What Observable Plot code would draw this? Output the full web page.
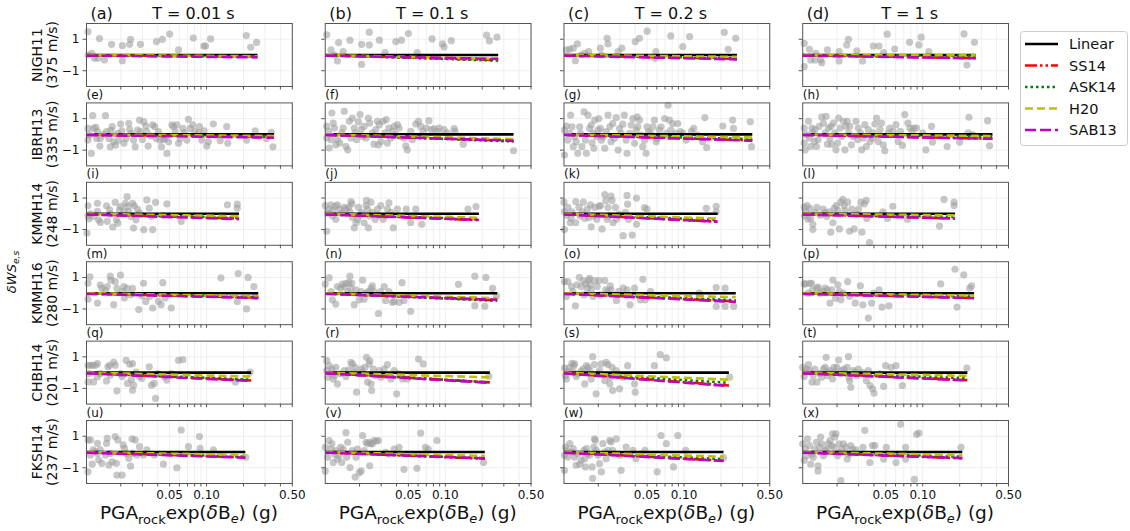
<!DOCTYPE html>
<html><head><meta charset="utf-8">
<script src="https://cdn.jsdelivr.net/npm/d3@7"></script>
<script src="https://cdn.jsdelivr.net/npm/@observablehq/plot@0.6"></script>
<style>body{margin:0;background:#fff;} svg{display:block}</style>
</head><body><div id="chart"></div>
<script>
// ---------- categories & labels ----------
const periods = ["0.01", "0.1", "0.2", "1"];
const periodTitles = ["T = 0.01 s", "T = 0.1 s", "T = 0.2 s", "T = 1 s"];
const stations = ["NIGH11", "IBRH13", "KMMH14", "KMMH16", "CHBH14", "FKSH14"];
const vs30 = [375, 335, 248, 280, 201, 237];
const letters = ["a","b","c","d","e","f","g","h","i","j","k","l","m","n","o","p","q","r","s","t","u","v","w","x"];
const xTicksLabeled = [0.05, 0.1, 0.5];
const xTicksAll = [0.02,0.03,0.04,0.05,0.06,0.07,0.08,0.09,0.1,0.2,0.3,0.4,0.5];
const yTicks = [-1, 1];
const xDomain = [0.0105, 0.5];
const yDomain = [-2, 2];
const models = ["Linear", "SS14", "ASK14", "H20", "SAB13"];

// ---------- residual points [x (g), y] per station & period ----------
const NIGH11_T001 = [[0.0108,1.48],[0.0134,1.04],[0.0168,0.68],[0.0206,0.59],[0.024,0.99],[0.0236,0.68],[0.0289,0.68],[0.039,0.85],[0.0436,0.99],[0.05,1.33],[0.059,0.32],[0.078,1.08],[0.095,0.57],[0.098,0.57],[0.108,1.02],[0.211,1.23],[0.229,0.49],[0.256,0.8],[0.0108,0],[0.0122,-0.21],[0.013,-0.21],[0.0147,-0.32],[0.0206,-0.36],[0.0116,0.1]];
const NIGH11_T01 = [[0.0108,1.28],[0.0117,0.32],[0.0125,0],[0.0132,-0.38],[0.0135,0.79],[0.0147,0.21],[0.0167,0.94],[0.0208,-0.6],[0.0208,0.68],[0.024,1.45],[0.024,0.64],[0.029,0.94],[0.0323,0.15],[0.0395,0.85],[0.0439,0.94],[0.05,1.36],[0.059,0.15],[0.078,1.02],[0.0948,0.7],[0.0976,0.51],[0.112,0.91],[0.217,1.26],[0.229,0.89],[0.264,1.13]];
const NIGH11_T02 = [[0.011,0.32],[0.0117,0.36],[0.0125,0.43],[0.013,-0.36],[0.0135,0.7],[0.0145,0],[0.0155,0.11],[0.0167,0.21],[0.0208,0.43],[0.0212,0],[0.0236,1.06],[0.024,0.7],[0.029,0.21],[0.0311,0.43],[0.04,0.85],[0.0433,1.06],[0.05,1.51],[0.058,-0.21],[0.059,0.21],[0.078,1.21],[0.0976,0.53],[0.111,1.17],[0.213,1.43],[0.229,0.36],[0.264,1.06]];
const NIGH11_T1 = [[0.0108,0.74],[0.0108,-0.74],[0.0119,0.36],[0.0122,-0.32],[0.0132,-0.32],[0.0134,0.11],[0.0147,-0.32],[0.015,-0.49],[0.0167,0.32],[0.0208,0.21],[0.0208,-0.38],[0.024,0.64],[0.0248,1.0],[0.029,0.26],[0.0323,-0.38],[0.0395,0.57],[0.0439,0.57],[0.048,0.15],[0.0513,1.32],[0.059,0.38],[0.078,0.81],[0.093,0.64],[0.097,1.13],[0.112,0.21],[0.217,1.34],[0.229,-0.64],[0.264,0.81]];

const IBRH13_T001 = [[0.0108,0.38],[0.0108,-0.36],[0.0115,-1.21],[0.0118,1.19],[0.012,0.38],[0.0127,-0.26],[0.0135,-0.74],[0.0136,-0.26],[0.015,1.19],[0.0153,0.17],[0.016,-0.26],[0.0164,-0.79],[0.017,0.49],[0.0175,-0.47],[0.0181,-0.68],[0.0189,0.06],[0.0193,-0.36],[0.0199,0.66],[0.0204,0.23],[0.0212,-0.57],[0.0221,-0.26],[0.0232,0.7],[0.0236,0.32],[0.0242,0.06],[0.0254,-0.36],[0.0262,-0.79],[0.0274,0.28],[0.0284,0.91],[0.029,0.17],[0.03,-0.32],[0.0308,0.81],[0.032,0.53],[0.0326,0.17],[0.0334,-0.74],[0.0351,-0.11],[0.0364,0.6],[0.0378,0.49],[0.0388,-0.26],[0.0405,0.17],[0.0416,-0.36],[0.0429,-0.79],[0.0445,-0.32],[0.046,-0.26],[0.0475,-1.21],[0.049,-0.47],[0.0522,0.6],[0.0538,0.49],[0.0555,0.17],[0.0573,0.6],[0.0591,-0.57],[0.061,-0.26],[0.0641,0.38],[0.0657,0.11],[0.0691,-0.36],[0.0712,0.96],[0.0735,0.38],[0.0772,0.6],[0.0802,0.17],[0.0864,0.11],[0.0875,0.49],[0.0914,-0.36],[0.0955,0.23],[0.1004,-0.74],[0.1035,-0.47],[0.1136,0.66],[0.129,-0.4],[0.146,0.49],[0.149,-0.57],[0.212,-0.36],[0.249,0.23],[0.263,-0.11],[0.307,-0.26],[0.337,0.13],[0.348,-0.79],[0.0111,-0.05],[0.0129,0.17],[0.0145,0.0],[0.0166,0.25],[0.0125,0.45]];
const IBRH13_T01 = [[0.0108,0.51],[0.0108,-0.23],[0.0112,0.19],[0.0113,-0.87],[0.0117,-0.34],[0.0119,1.36],[0.0122,0.72],[0.0125,0.4],[0.0128,-0.66],[0.0132,-0.34],[0.0138,-0.55],[0.0143,0.09],[0.0147,0.4],[0.015,1.47],[0.0155,-0.77],[0.016,-0.98],[0.0165,0.83],[0.017,-0.23],[0.0175,1.04],[0.0181,0.4],[0.0184,0.09],[0.0189,-0.34],[0.0196,0.79],[0.0202,1.26],[0.0206,0.3],[0.0212,-0.13],[0.0218,0.51],[0.0226,-0.23],[0.0236,1.04],[0.0242,0.72],[0.0254,0.09],[0.0262,-0.62],[0.0271,0.3],[0.028,0.83],[0.0285,-0.66],[0.029,0.62],[0.0298,-0.45],[0.0311,0.83],[0.0323,0.09],[0.033,0.94],[0.0337,-0.55],[0.0347,0.4],[0.036,-0.23],[0.0371,0.19],[0.0383,0.51],[0.0395,-0.02],[0.0407,0.62],[0.042,0.4],[0.0433,-0.13],[0.046,-0.23],[0.0476,-0.72],[0.049,-0.98],[0.0523,0.19],[0.0538,-0.34],[0.0574,0.66],[0.0605,0.83],[0.063,0.51],[0.0657,0.19],[0.0701,0.4],[0.0735,0.87],[0.077,0.3],[0.081,0.36],[0.086,0.19],[0.089,0.4],[0.0976,0.3],[0.104,0.09],[0.118,0.36],[0.12,0.19],[0.14,-0.62],[0.36,-1.04]];
const IBRH13_T02 = [[0.0106,0.27],[0.0106,-1.31],[0.011,0.53],[0.0113,-0.36],[0.0117,0.06],[0.0119,1.22],[0.0122,0.48],[0.0125,-0.78],[0.0128,-0.15],[0.0132,-0.46],[0.0136,-1.2],[0.0141,0.48],[0.0143,0.06],[0.0147,-0.78],[0.0153,1.43],[0.0157,-0.36],[0.016,-1.2],[0.0165,1.22],[0.017,0.38],[0.0175,0.59],[0.0178,-0.53],[0.0181,0.06],[0.0184,-0.88],[0.0187,0.91],[0.0193,-0.15],[0.0199,0.27],[0.0202,1.01],[0.0208,0.38],[0.0212,-0.36],[0.0218,-0.15],[0.0226,-0.88],[0.0232,0.17],[0.024,1.22],[0.0248,0.48],[0.0254,-0.46],[0.0262,0.69],[0.0271,-0.25],[0.028,1.07],[0.029,-0.99],[0.0298,0.38],[0.0307,0.06],[0.0317,0.65],[0.0326,1.22],[0.0337,-0.36],[0.0343,-1.2],[0.036,0.06],[0.0371,0.59],[0.0383,1.01],[0.0395,-0.57],[0.0407,0.27],[0.0415,1.12],[0.042,0.48],[0.0433,0.91],[0.0446,-0.04],[0.046,-0.78],[0.0476,-0.36],[0.049,-1.2],[0.0499,0.48],[0.0513,0.17],[0.0533,0.06],[0.0557,0.48],[0.0574,0.91],[0.0593,-0.46],[0.0604,-0.25],[0.063,0.27],[0.0649,0.48],[0.0695,1.01],[0.0717,0.06],[0.0741,1.85],[0.0741,-0.15],[0.0759,0.91],[0.078,0.27],[0.0808,0.69],[0.086,0.06],[0.089,0.69],[0.0935,0.17],[0.0976,0.06],[0.104,-0.36],[0.115,0.21],[0.12,0.38],[0.129,-0.04],[0.142,-0.46],[0.148,1.07],[0.153,-0.84],[0.207,0.53],[0.249,0.91],[0.253,0.38],[0.347,0.8],[0.355,-0.78]];
const IBRH13_T1 = [[0.0108,0.4],[0.0108,-0.55],[0.011,-0.98],[0.0113,-0.02],[0.0117,0.83],[0.0119,-0.23],[0.0122,-0.77],[0.0125,0.4],[0.0127,0.09],[0.0131,-0.45],[0.0132,0.3],[0.0136,-0.77],[0.014,-0.34],[0.0143,0.51],[0.015,1.11],[0.0155,0.72],[0.016,0.09],[0.0163,1.15],[0.0167,-0.62],[0.017,0.4],[0.0175,-0.23],[0.0178,0.51],[0.0181,-0.62],[0.0187,0.72],[0.0192,0.09],[0.0196,-0.98],[0.0202,-0.55],[0.0206,1.04],[0.0212,0.4],[0.0218,-0.13],[0.0226,0.83],[0.0232,-0.98],[0.0236,0.51],[0.0242,0.83],[0.0248,0.09],[0.0254,0.51],[0.0262,-0.66],[0.0271,-0.13],[0.0285,0.83],[0.0294,-0.34],[0.0298,0.4],[0.031,0.09],[0.0318,-0.98],[0.0326,-0.23],[0.0337,0.62],[0.0347,-0.77],[0.036,0.3],[0.0371,-0.45],[0.0389,-0.23],[0.0395,0.09],[0.0407,0.66],[0.042,1.04],[0.0433,-0.45],[0.0448,0.3],[0.046,0.72],[0.0476,-0.66],[0.049,-1.04],[0.0523,0.09],[0.0538,0.4],[0.0574,0.19],[0.0605,0.62],[0.063,-0.45],[0.0657,0.19],[0.0683,-0.7],[0.0713,1.26],[0.0756,0.72],[0.0785,0.4],[0.082,0.19],[0.0845,0.4],[0.089,0.4],[0.1,0.09],[0.106,-0.98],[0.118,0.51],[0.12,-0.49],[0.158,-0.77],[0.2,-0.49],[0.234,0.09],[0.238,1.09],[0.254,-0.02],[0.338,0.87],[0.35,-0.72]];

const KMMH14_T001 = [[0.0108,0.51],[0.0108,-0.13],[0.011,-0.32],[0.0106,-1.22],[0.0113,0],[0.012,-0.17],[0.0129,0.67],[0.0129,0.15],[0.0132,-0.38],[0.0136,-0.55],[0.0153,0.51],[0.0155,-0.48],[0.0162,0.25],[0.0164,-0.02],[0.0172,-0.84],[0.018,0.72],[0.0184,-0.38],[0.0189,-0.59],[0.0195,0.25],[0.0199,0.46],[0.0212,0.15],[0.0218,0.67],[0.0225,1.09],[0.0227,0.46],[0.0232,0.15],[0.0242,-0.17],[0.0249,0.67],[0.0254,-0.91],[0.0258,0.51],[0.0266,-0.38],[0.0274,0.29],[0.0284,0.04],[0.0308,-1.01],[0.0326,0.88],[0.0341,0.36],[0.0356,-0.17],[0.0364,-1.01],[0.0384,0.72],[0.044,-0.1],[0.0475,0.63],[0.0621,-0.48],[0.148,0.57],[0.178,0.61],[0.178,0.36]];
const KMMH14_T01 = [[0.0105,0.52],[0.0108,-1.11],[0.011,0.04],[0.0113,0.3],[0.0117,0.57],[0.012,-0.13],[0.0122,0.2],[0.0127,0.48],[0.0128,-0.35],[0.0132,0.57],[0.0138,0.3],[0.0143,0.04],[0.015,0.41],[0.0155,0.3],[0.0163,0.41],[0.0167,0.13],[0.017,0.78],[0.0173,0.63],[0.0175,-0.24],[0.0181,-0.89],[0.0187,-0.57],[0.0193,-0.35],[0.0196,0.41],[0.0202,-0.09],[0.0208,0.09],[0.0218,-0.57],[0.0226,0.52],[0.0228,0.85],[0.0232,0.3],[0.0236,-0.89],[0.024,-0.13],[0.0248,0.74],[0.0254,0.09],[0.0268,-0.35],[0.028,0.3],[0.0285,-0.09],[0.0298,0.52],[0.0311,-0.35],[0.0326,-0.13],[0.0337,0.3],[0.0347,0.7],[0.036,0.09],[0.0377,-0.89],[0.0407,0.3],[0.048,0.3],[0.0523,-0.57],[0.0574,0.3],[0.0643,-0.67],[0.153,0.3],[0.178,0.46]];
const KMMH14_T02 = [[0.0105,0.74],[0.0106,0.13],[0.0106,-1.0],[0.0111,-0.09],[0.0113,0.41],[0.0118,-0.57],[0.012,-0.3],[0.0122,0.13],[0.0131,0.78],[0.0131,-0.57],[0.0139,0.41],[0.0142,-0.13],[0.0148,0.13],[0.0151,0.74],[0.0155,-0.3],[0.0163,0.3],[0.0168,-0.24],[0.0173,0.57],[0.0175,-0.83],[0.0182,-0.13],[0.0187,0.41],[0.0194,-0.35],[0.0203,0.48],[0.0208,0.52],[0.0215,-0.96],[0.0226,1.22],[0.023,0.85],[0.0236,-0.35],[0.024,0.41],[0.0244,-0.13],[0.0254,1.13],[0.0259,0.85],[0.0264,-0.57],[0.0276,0.41],[0.0281,-0.35],[0.0294,-0.02],[0.0319,-1.39],[0.0333,0.09],[0.0343,1.17],[0.0347,0.61],[0.0352,-0.35],[0.0378,-1.35],[0.041,1.0],[0.041,-0.67],[0.0476,0.39],[0.0499,0.3],[0.152,0.35],[0.183,0.48],[0.183,0.13]];
const KMMH14_T1 = [[0.0108,0.41],[0.0109,-0.13],[0.0111,0.13],[0.0114,0.52],[0.0116,-0.35],[0.012,0.35],[0.0122,-0.3],[0.0127,-0.67],[0.0127,-1.0],[0.0133,0.09],[0.0137,0.41],[0.0146,-0.09],[0.0154,0.3],[0.016,0.09],[0.0165,-0.17],[0.0174,0.13],[0.0178,-1.17],[0.0185,-0.57],[0.019,0.35],[0.0197,0.52],[0.0203,0.2],[0.0209,-0.96],[0.0215,0.74],[0.0223,0.91],[0.0229,0.52],[0.0233,0.2],[0.0244,0.74],[0.0253,-1.11],[0.0264,0.3],[0.0276,-0.96],[0.0287,-0.02],[0.03,0.3],[0.0313,0.74],[0.0319,-1.17],[0.0333,0.63],[0.0346,0.85],[0.035,-0.3],[0.0368,-1.83],[0.0473,0.13],[0.0516,-0.3],[0.057,0.48],[0.075,-0.35],[0.137,-0.78],[0.149,0.91],[0.18,0.74],[0.18,0.52]];

const KMMH16_T001 = [[0.0108,0.63],[0.0112,1.04],[0.0108,-0.38],[0.0129,-0.63],[0.0136,0.52],[0.014,0.31],[0.015,0.17],[0.0155,0.42],[0.0164,1.08],[0.0166,0.83],[0.0175,-0.73],[0.018,0.73],[0.0186,0.31],[0.0199,1.15],[0.0205,0.1],[0.0212,0.42],[0.0214,-0.31],[0.0225,0.31],[0.024,-0.1],[0.0249,0.31],[0.028,-1.04],[0.0297,-0.17],[0.0306,0.63],[0.032,-0.52],[0.0344,-0.21],[0.0364,-0.94],[0.0405,-0.52],[0.0426,-0.73],[0.044,0.67],[0.046,-0.31],[0.0516,-0.94],[0.131,0.98],[0.178,-0.52],[0.181,1.25],[0.212,-1.0],[0.218,1.0],[0.243,0.42],[0.248,-0.21]];
const KMMH16_T01 = [[0.0105,0.58],[0.0113,0.98],[0.0117,0.1],[0.012,-0.42],[0.0128,-0.69],[0.0132,0.42],[0.014,0.31],[0.0145,0.58],[0.015,0.42],[0.0155,0.63],[0.016,0.1],[0.0163,0.67],[0.0167,1.08],[0.017,0.31],[0.0173,0.63],[0.0181,-0.73],[0.0187,0.21],[0.0199,-0.42],[0.0206,0.1],[0.0212,0.83],[0.0218,-0.38],[0.0226,0],[0.0236,0.1],[0.0248,0.31],[0.0254,0.46],[0.0262,0.1],[0.0285,-1.29],[0.0296,0.1],[0.0318,0.42],[0.0326,-0.46],[0.0347,0.1],[0.037,-0.58],[0.0383,-0.52],[0.042,-0.58],[0.0444,0.67],[0.046,-0.46],[0.0523,-1.15],[0.128,0.56],[0.174,1.08],[0.174,-0.79],[0.21,-0.83],[0.214,1.0],[0.243,0.31],[0.262,-0.17]];
const KMMH16_T02 = [[0.0106,0.74],[0.011,-0.21],[0.0113,0.74],[0.0121,0.42],[0.0124,0.11],[0.013,-0.8],[0.0134,0.53],[0.014,1.01],[0.0145,0.42],[0.0151,0.8],[0.0153,-0.11],[0.0158,0.59],[0.0163,0.32],[0.0167,0.84],[0.017,0.95],[0.0173,0.53],[0.0175,0.21],[0.0181,-0.21],[0.0187,0.8],[0.0196,0.42],[0.0203,0.8],[0.0208,-0.11],[0.0226,0.8],[0.023,0.21],[0.024,0.11],[0.025,0.46],[0.0254,0.21],[0.0281,-0.46],[0.0294,0.11],[0.0319,0.32],[0.0343,0.21],[0.0363,-0.74],[0.0395,0.32],[0.0441,-0.42],[0.0462,0.88],[0.0483,-0.42],[0.0533,0.11],[0.133,0],[0.183,0.36],[0.183,-0.84],[0.216,0.32],[0.216,-0.84],[0.254,-0.84]];
const KMMH16_T1 = [[0.0108,0.59],[0.0111,0.59],[0.0116,0],[0.012,0.63],[0.0124,0.63],[0.0126,0.21],[0.0137,0.32],[0.014,0.38],[0.0145,0],[0.0154,0.11],[0.016,0.32],[0.0167,0.21],[0.0175,-0.63],[0.0181,0.21],[0.0185,0.84],[0.0194,-0.32],[0.0203,0.53],[0.0209,0.11],[0.0215,-0.42],[0.0225,0],[0.0244,0.74],[0.0253,-0.21],[0.0281,-0.63],[0.031,0.46],[0.0325,-0.74],[0.036,-1.58],[0.0383,-0.63],[0.0396,0],[0.044,0.21],[0.0465,-0.88],[0.053,-0.8],[0.14,0.59],[0.183,1.52],[0.19,-0.88],[0.216,1.16],[0.241,0.32],[0.25,0.46]];

const CHBH14_T001 = [[0.0108,0.46],[0.011,-0.06],[0.0108,-0.59],[0.0113,0.46],[0.0118,0.46],[0.0124,0.46],[0.0129,0.57],[0.0129,-0.27],[0.012,-0.59],[0.0136,-0.06],[0.0153,-0.53],[0.0157,0.36],[0.0162,0.46],[0.0164,-0.17],[0.0175,0.67],[0.018,0.46],[0.0186,-1.16],[0.0199,-0.06],[0.0205,-0.27],[0.0221,0.78],[0.0227,-0.69],[0.0236,0.53],[0.0244,-0.44],[0.0249,-1.12],[0.0249,0.57],[0.0254,-0.8],[0.0266,0.04],[0.0284,-0.27],[0.0297,-0.38],[0.0341,0.36],[0.0356,-0.8],[0.0374,-0.69],[0.0384,-1.64],[0.04,-0.06],[0.0454,-0.27],[0.0475,-0.48],[0.0516,-0.06],[0.0591,0.78],[0.0641,0.82],[0.172,-0.59],[0.227,0.04]];
const CHBH14_T01 = [[0.0108,0.76],[0.0108,0.13],[0.011,-0.29],[0.0113,0.44],[0.0117,-0.08],[0.0119,0.23],[0.0122,-0.4],[0.0125,-0.19],[0.0128,0.34],[0.0132,-0.72],[0.014,-0.08],[0.015,0.13],[0.0155,-0.25],[0.0163,0.17],[0.017,0.65],[0.0175,0.55],[0.0181,0.02],[0.0184,0.34],[0.0189,-1.24],[0.0196,-0.08],[0.0206,0.23],[0.0212,0.02],[0.0221,0.34],[0.0228,0.97],[0.0232,-0.61],[0.024,0.55],[0.0242,0.76],[0.0248,-0.72],[0.0251,-1.14],[0.0259,0.23],[0.0271,-0.19],[0.029,0.13],[0.0298,-0.29],[0.0318,0.23],[0.0326,-0.19],[0.0337,0.51],[0.036,-0.4],[0.0383,0.13],[0.0401,-1.35],[0.042,-0.08],[0.0448,-0.4],[0.049,-0.4],[0.0605,0.86],[0.066,0.55],[0.226,-0.23]];
const CHBH14_T02 = [[0.0106,0.29],[0.0108,-0.19],[0.011,-0.4],[0.0113,0.08],[0.0117,0.34],[0.0122,0.59],[0.0125,0.02],[0.0126,0.44],[0.0128,0.55],[0.0132,-0.25],[0.0136,-0.08],[0.0145,0.08],[0.015,0.23],[0.0155,-0.72],[0.016,0.44],[0.0165,0.34],[0.017,0.13],[0.0175,-0.4],[0.018,1.01],[0.0186,0.51],[0.0192,-1.35],[0.0199,-0.08],[0.0205,0.13],[0.0212,0.55],[0.0226,-0.51],[0.0232,0.65],[0.024,0.51],[0.0248,-0.72],[0.0251,-0.29],[0.0259,0.34],[0.0262,-1.14],[0.028,0.13],[0.0298,-1.03],[0.0318,-0.29],[0.0347,0.44],[0.0395,-0.72],[0.04,-1.24],[0.0573,0.44],[0.0641,1.14],[0.0717,0.93],[0.235,-0.29]];
const CHBH14_T1 = [[0.0105,0.34],[0.0108,-0.25],[0.011,0.02],[0.0113,0.23],[0.0117,0.51],[0.012,0.13],[0.0125,-0.61],[0.0128,-0.19],[0.0132,0.23],[0.0137,-0.61],[0.0145,-0.04],[0.015,-0.29],[0.0155,0.23],[0.016,0.34],[0.0163,0.97],[0.0167,-0.19],[0.017,0.02],[0.0175,0.13],[0.0184,-0.4],[0.0189,0.34],[0.0192,0.02],[0.0199,0.34],[0.0206,0.8],[0.0212,-0.08],[0.0218,0.13],[0.0228,0.23],[0.0236,-0.04],[0.0242,0.34],[0.0248,1.01],[0.0251,-0.29],[0.0254,-0.51],[0.0259,-0.93],[0.0271,0.13],[0.028,0.02],[0.029,-0.19],[0.0298,0.23],[0.0323,0.02],[0.0347,-0.51],[0.036,0.13],[0.0371,-0.82],[0.0389,-1.03],[0.0401,-1.31],[0.0444,-0.08],[0.048,-0.88],[0.0498,0.44],[0.0552,0.34],[0.0605,0.44],[0.0683,-0.82],[0.229,0.29]];

const FKSH14_T001 = [[0.0108,0.77],[0.0108,-1.26],[0.0113,0.77],[0.0113,-0.19],[0.0117,-0.77],[0.0119,0.13],[0.0124,0.02],[0.0129,0.55],[0.0129,-0.09],[0.0132,-0.51],[0.0136,0.13],[0.014,-0.72],[0.015,-0.19],[0.0153,0.55],[0.0155,0.87],[0.016,-0.83],[0.0164,-0.09],[0.017,-0.62],[0.018,0.98],[0.0184,-0.72],[0.0186,-1.47],[0.0189,0.77],[0.0205,-1.47],[0.0209,0.45],[0.0214,0.23],[0.0221,-0.09],[0.0232,-0.4],[0.024,-0.89],[0.0247,0.83],[0.0249,-0.09],[0.0262,0.77],[0.027,-0.19],[0.0284,0.34],[0.0306,-0.19],[0.0326,0.13],[0.0374,-0.19],[0.0445,-0.77],[0.0573,-1.0],[0.0621,1.4],[0.0712,0.34],[0.0875,0.98],[0.0886,0.23],[0.1136,0.13],[0.129,-0.19],[0.209,-0.34]];
const FKSH14_T01 = [[0.0105,0.3],[0.0105,-1.2],[0.011,-0.34],[0.0113,0.73],[0.0117,0.19],[0.0119,0.52],[0.0122,-0.67],[0.0125,-0.13],[0.0128,0.09],[0.0132,-0.45],[0.0136,-0.24],[0.014,0.3],[0.0143,-0.67],[0.0147,0.19],[0.0155,1.23],[0.0157,-0.34],[0.016,0.62],[0.0167,-0.99],[0.0175,0.09],[0.0184,-1.59],[0.0187,-0.34],[0.0192,0.19],[0.0199,-1.31],[0.0206,-1.2],[0.0212,1.05],[0.0218,0.09],[0.0226,0.62],[0.0232,0.52],[0.024,0.62],[0.0242,-0.88],[0.0248,0.52],[0.0254,0.52],[0.0262,0.73],[0.0275,0.69],[0.0285,0.73],[0.0326,-0.02],[0.0347,-0.13],[0.0383,0.19],[0.042,0.3],[0.046,-1.1],[0.0588,-1.03],[0.063,1.2],[0.0688,0.3],[0.0725,0.19],[0.0855,0.73],[0.205,-0.67]];
const FKSH14_T02 = [[0.0106,-0.21],[0.0106,-1.16],[0.0108,0.32],[0.011,0.11],[0.0113,-0.32],[0.0117,0.53],[0.0122,0],[0.0125,0.21],[0.0128,-0.32],[0.0132,-0.84],[0.0136,-0.11],[0.0141,-0.78],[0.0145,-0.53],[0.0153,0.11],[0.0155,-0.42],[0.0157,-0.95],[0.016,0.21],[0.0165,-0.11],[0.017,-0.21],[0.0178,-0.95],[0.018,-1.68],[0.0184,0.32],[0.0186,0.84],[0.0189,0.74],[0.0192,0.11],[0.0199,-0.21],[0.0205,-0.74],[0.0212,-1.26],[0.0218,0.53],[0.0226,0],[0.0232,-0.42],[0.024,0.11],[0.0248,0.74],[0.0254,0.63],[0.0262,0.11],[0.0271,-0.11],[0.028,0.84],[0.0298,-0.21],[0.0307,-1.16],[0.0337,0.32],[0.0383,0.11],[0.0405,-0.42],[0.0446,-0.11],[0.048,0.11],[0.0604,-1.26],[0.0649,1.05],[0.0717,0.53],[0.082,-0.95],[0.089,1.05],[0.103,0.11],[0.21,-0.36]];
const FKSH14_T1 = [[0.0105,0.52],[0.0108,-0.52],[0.011,0.19],[0.0113,-0.24],[0.0115,0.84],[0.0119,0.41],[0.0122,-0.77],[0.0125,-0.13],[0.0128,-0.34],[0.0132,0.19],[0.0136,0.62],[0.014,-1.2],[0.014,-0.88],[0.0145,0.3],[0.0147,0.95],[0.015,0.52],[0.0155,-0.24],[0.016,0.09],[0.0165,0.19],[0.017,0.52],[0.0175,0.73],[0.0181,0.41],[0.0184,1.16],[0.0189,0.3],[0.0192,0.95],[0.0196,1.16],[0.0202,-0.24],[0.0206,-0.02],[0.0208,0.52],[0.0215,-1.81],[0.0218,0.19],[0.0226,0.52],[0.0236,0.3],[0.0242,-0.45],[0.0251,-0.13],[0.0259,0.41],[0.0268,0.19],[0.0285,0.13],[0.0326,0.3],[0.0337,1.38],[0.037,-0.67],[0.0389,0.41],[0.0407,0.41],[0.048,-0.45],[0.0505,0.3],[0.0605,-0.67],[0.066,1.76],[0.0725,0.3],[0.0725,-0.45],[0.0855,-1.74],[0.089,1.12],[0.093,1.2],[0.205,0.3]];

// ---------- model lines: start x, end x per panel (rows = stations, cols = periods) ----------
const lineStartX = 0.0105;
const lineEndX = [
  [0.26, 0.27, 0.27, 0.27],
  [0.355, 0.36, 0.36, 0.37],
  [0.184, 0.188, 0.188, 0.183],
  [0.264, 0.265, 0.264, 0.262],
  [0.231, 0.231, 0.232, 0.231],
  [0.207, 0.21, 0.21, 0.21]
];
const modelStartY = [0, -0.02, -0.01, 0, -0.04];
const endLinear = [[0,0,0,0],[0,0,0,0],[0,0,0,0],[0,0,0,0],[0,0,0,0],[0,0,0,0]];
const endSS14 = [
  [-0.10, -0.32, -0.25, -0.20],
  [-0.15, -0.42, -0.38, -0.28],
  [-0.30, -0.40, -0.50, -0.30],
  [-0.28, -0.45, -0.52, -0.30],
  [-0.50, -0.62, -0.82, -0.48],
  [-0.33, -0.43, -0.55, -0.40]
];
const endASK14 = [
  [-0.10, -0.36, -0.20, -0.05],
  [-0.15, -0.45, -0.30, -0.15],
  [-0.25, -0.35, -0.40, -0.20],
  [-0.25, -0.48, -0.45, -0.22],
  [-0.45, -0.62, -0.65, -0.35],
  [-0.30, -0.40, -0.45, -0.30]
];
const endH20 = [
  [-0.08, -0.25, -0.12, -0.02],
  [-0.10, -0.30, -0.20, -0.10],
  [-0.15, -0.25, -0.30, -0.10],
  [-0.20, -0.32, -0.25, -0.15],
  [-0.25, -0.30, -0.45, -0.20],
  [-0.20, -0.25, -0.30, -0.20]
];
const endSAB13 = [
  [-0.15, -0.25, -0.28, -0.21],
  [-0.21, -0.40, -0.40, -0.28],
  [-0.34, -0.39, -0.50, -0.30],
  [-0.31, -0.42, -0.55, -0.32],
  [-0.53, -0.65, -0.86, -0.50],
  [-0.36, -0.40, -0.57, -0.39]
];

// ---------- styles ----------
const modelColors = ["#000000", "#ff0000", "#008000", "#bfbf00", "#bf00bf"];
const modelDash = [null, "12,3,2.5,3,2.5,3", "2.5,3", "8,4", "11,4"];
const FONT = "'DejaVu Sans', sans-serif";

// ---------- build tables ----------
const pointSets = [
  [NIGH11_T001, NIGH11_T01, NIGH11_T02, NIGH11_T1],
  [IBRH13_T001, IBRH13_T01, IBRH13_T02, IBRH13_T1],
  [KMMH14_T001, KMMH14_T01, KMMH14_T02, KMMH14_T1],
  [KMMH16_T001, KMMH16_T01, KMMH16_T02, KMMH16_T1],
  [CHBH14_T001, CHBH14_T01, CHBH14_T02, CHBH14_T1],
  [FKSH14_T001, FKSH14_T01, FKSH14_T02, FKSH14_T1]
];
const pts = [];
stations.forEach((st, i) => periods.forEach((T, j) => {
  pointSets[i][j].forEach(([x, y]) => pts.push({st, T, x, y}));
}));
const modelEnds = [endLinear, endSS14, endASK14, endH20, endSAB13];
const lineRows = [];
stations.forEach((st, i) => periods.forEach((T, j) => models.forEach((m, k) => {
  lineRows.push({st, T, model: m, x: lineStartX, y: modelStartY[k]});
  lineRows.push({st, T, model: m, x: lineEndX[i][j], y: modelEnds[k][i][j]});
})));
const panels = [];
stations.forEach((st, i) => periods.forEach((T, j) => panels.push({st, T, letter: "(" + letters[i * 4 + j] + ")", title: periodTitles[j]})));
const rowLabels = stations.map((st, i) => ({st, T: periods[0], label: st + "\n(" + vs30[i] + " m/s)"}));

const lineMarks = models.map((m, k) => Plot.line(lineRows.filter(d => d.model === m), {
  x: "x", y: "y", fx: "T", fy: "st",
  stroke: modelColors[k], strokeWidth: 2.6,
  strokeDasharray: modelDash[k], strokeLinecap: "butt"
}));

const plot = Plot.plot({
  width: 1130, height: 531,
  marginLeft: 86, marginRight: 122, marginTop: 23, marginBottom: 48,
  style: {fontFamily: FONT, fontSize: "12px", color: "#111", background: "white"},
  fx: {domain: periods, paddingInner: 0.138, paddingOuter: 0, axis: null, round: false},
  fy: {domain: stations, paddingInner: 0.207, paddingOuter: 0, axis: null, round: false},
  x: {type: "log", domain: xDomain, axis: null},
  y: {domain: yDomain, axis: null},
  marks: [
    Plot.gridX(xTicksAll, {stroke: "#ebebeb", strokeOpacity: 1, strokeWidth: 0.8}),
    Plot.gridY(yTicks, {stroke: "#ebebeb", strokeOpacity: 1, strokeWidth: 0.8}),
    Plot.dot(pts, {x: "x", y: "y", fx: "T", fy: "st", r: 3.6, fill: "#9e9e9e", fillOpacity: 0.58, stroke: "none"}),
    ...lineMarks,
    Plot.frame({stroke: "#555", strokeWidth: 1}),
    Plot.axisX({ticks: xTicksAll, tickSize: 3.5, tickFormat: () => "", facetAnchor: null, label: null, stroke: "#555"}),
    Plot.axisY({ticks: yTicks, tickSize: 3.5, tickFormat: () => "", facetAnchor: null, label: null, stroke: "#555"}),
    Plot.axisX({ticks: xTicksLabeled, tickSize: 0, tickPadding: 7, tickFormat: d3.format(".2f"), label: null, fontSize: 12}),
    Plot.axisY({ticks: yTicks, tickSize: 0, tickPadding: 7, tickFormat: d => d < 0 ? "\u22121" : "1", label: null, fontSize: 12}),
    // panel letters (rows 2-6)
    Plot.text(panels.filter(d => d.st !== stations[0]), {fx: "T", fy: "st", text: "letter", frameAnchor: "top-left", textAnchor: "start", lineAnchor: "bottom", dy: -4, fontSize: 12}),
    // column headers
    Plot.text(panels.filter(d => d.st === stations[0]), {fx: "T", fy: "st", text: "letter", frameAnchor: "top-left", textAnchor: "start", lineAnchor: "bottom", dx: 4, dy: -5, fontSize: 16}),
    Plot.text(panels.filter(d => d.st === stations[0]), {fx: "T", fy: "st", text: "title", frameAnchor: "top", lineAnchor: "bottom", dx: 4, dy: -5, fontSize: 16}),
    // row labels
    Plot.text(rowLabels, {fx: "T", fy: "st", text: "label", frameAnchor: "left", rotate: -90, dx: -42, textAnchor: "middle", lineAnchor: "middle", lineHeight: 1.1, fontSize: 14})
  ]
});
document.getElementById("chart").appendChild(plot);

// ---------- extra text: shared labels and legend ----------
const svg = d3.select(plot);
const fxs = plot.scale("fx");
const bw = fxs.bandwidth;
const xl = svg.append("g").attr("font-family", FONT).attr("font-size", 18.5).attr("fill", "#111").attr("text-anchor", "middle");
periods.forEach(T => {
  const cx = fxs.apply(T) + bw / 2;
  const t = xl.append("text").attr("x", cx).attr("y", 519);
  t.append("tspan").text("PGA");
  t.append("tspan").attr("font-size", "70%").attr("dy", 5).text("rock");
  t.append("tspan").attr("dy", -5).text("exp(");
  t.append("tspan").attr("font-style", "italic").text("\u03b4");
  t.append("tspan").text("B");
  t.append("tspan").attr("font-size", "70%").attr("font-style", "italic").attr("dy", 4).text("e");
  t.append("tspan").attr("dy", -4).text(") (g)");
});
const yl = svg.append("text").attr("transform", "translate(16,272) rotate(-90)")
  .attr("text-anchor", "middle").attr("font-family", FONT).attr("font-size", 13)
  .attr("font-style", "italic").attr("fill", "#111");
yl.append("tspan").text("\u03b4WS");
yl.append("tspan").attr("font-size", "70%").attr("dy", 3).text("e,s");

const lg = svg.append("g").attr("font-family", FONT).attr("font-size", 14.5).attr("fill", "#111").attr("text-anchor", "start");
lg.append("rect").attr("x", 1020.5).attr("y", 31.5).attr("width", 107).attr("height", 114)
  .attr("rx", 3).attr("fill", "white").attr("stroke", "#cccccc");
models.forEach((m, k) => {
  const y = 44 + k * 21.5;
  lg.append("line").attr("x1", 1025).attr("x2", 1058).attr("y1", y).attr("y2", y)
    .attr("stroke", modelColors[k]).attr("stroke-width", 2.6)
    .attr("stroke-dasharray", modelDash[k]).attr("stroke-linecap", "butt");
  lg.append("text").attr("x", 1069).attr("y", y).attr("dy", "0.35em").attr("text-anchor", "start").text(m);
});
</script>
</body></html>
